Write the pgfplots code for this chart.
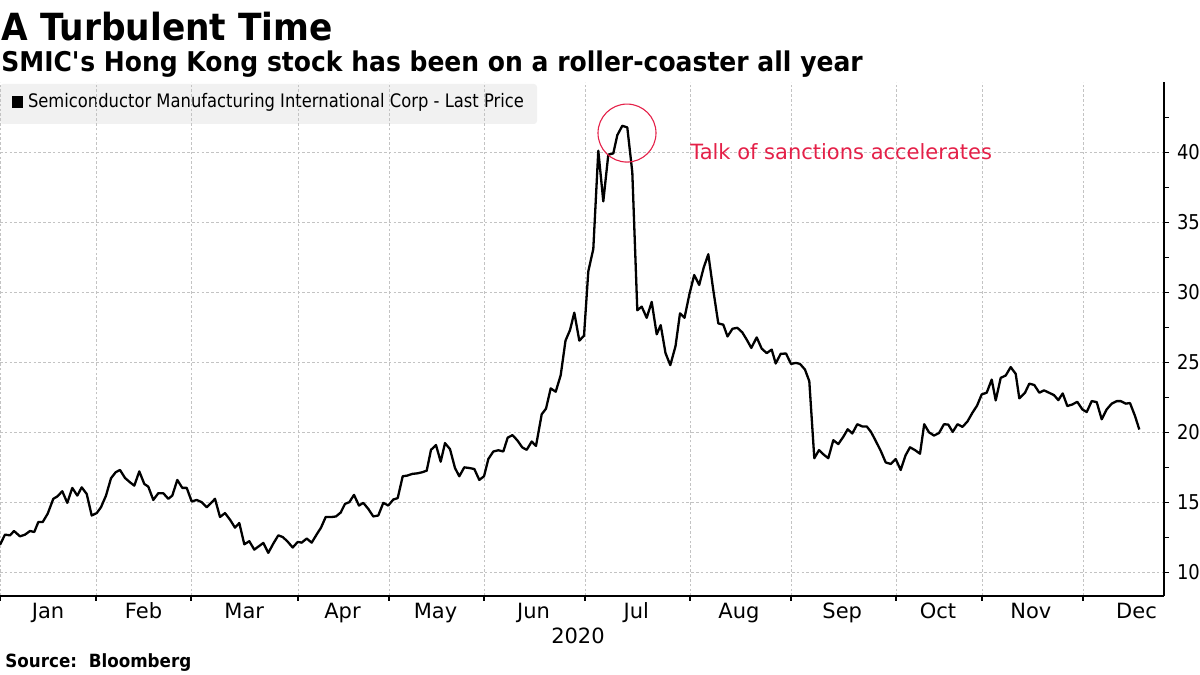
\documentclass[border=0pt]{standalone}
\usepackage{fontspec}
\setmainfont{DejaVu Sans}
\newfontfamily\titlefont{DejaVu Sans}[FakeStretch=0.92]
\newfontfamily\condfont{DejaVu Sans}[FakeStretch=0.88]
\usepackage{pgfplots}
\pgfplotsset{compat=1.18}
\definecolor{annot}{RGB}{228,32,72}
\definecolor{gridgray}{RGB}{195,195,195}
\definecolor{legfill}{RGB}{241,241,241}

\pgfplotstableread{
x v
0 11.97
5 12.69
10 12.64
14 12.95
20 12.57
25 12.69
30 12.95
34.3 12.88
38.3 13.59
42.7 13.59
47.7 14.19
53.3 15.25
57.3 15.42
62.3 15.79
67.3 14.96
72.3 16.03
77.3 15.48
81.7 16.07
86.7 15.60
91.7 14.06
96.7 14.23
101 14.65
106 15.48
111 16.72
115.7 17.15
120 17.31
125 16.74
130 16.43
134.3 16.19
139.3 17.21
144.3 16.31
148.3 16.12
153.3 15.17
158.3 15.65
163.3 15.65
168.3 15.25
172.3 15.48
177.3 16.60
182.3 16.03
186.7 16.03
191.7 15.06
196.7 15.17
201.7 15.01
206.7 14.65
211 14.95
215 15.25
220 13.95
225 14.23
230 13.76
235 13.19
239.3 13.52
244.3 12.00
249.3 12.22
254.3 11.62
259 11.87
263.3 12.10
268.3 11.39
273.3 12.05
278.3 12.64
282.7 12.52
287.3 12.22
292.7 11.77
297.7 12.17
301.7 12.12
306.7 12.41
311.7 12.12
316.7 12.71
321 13.19
325.7 13.95
331.7 13.95
336 13.99
340.7 14.27
345 14.89
349.3 15.01
354 15.53
359 14.77
363.3 14.96
368.3 14.53
373.3 13.99
378.3 14.06
383.3 14.96
388.3 14.77
393.3 15.20
397.7 15.30
402.7 16.86
407.3 16.91
412.3 17.03
417.3 17.07
422.3 17.15
426.7 17.26
431 18.75
436 19.09
440.7 17.90
445 19.23
450 18.80
455 17.45
459.3 16.86
464.3 17.50
469.3 17.45
474.3 17.38
479.3 16.60
484 16.86
488.3 18.09
493.3 18.63
498.3 18.72
503.3 18.63
507.7 19.62
512.5 19.80
517.3 19.43
522.3 18.92
526.7 18.75
531.7 19.34
536 19.03
541.7 21.29
546 21.69
550.7 23.14
555.7 22.90
560.7 24.08
565.5 26.55
570 27.30
574.3 28.55
579.3 26.55
584 26.90
588.3 31.50
593.3 33.10
598.3 40.12
603.3 36.50
608.3 39.84
613.3 39.93
617.3 41.23
622.3 41.90
627.3 41.78
632.3 38.58
637.3 28.72
641.7 28.98
646.7 28.18
651.7 29.32
656.7 27.00
660.7 27.66
665.5 25.66
670.3 24.80
675.5 26.15
680 28.50
684.5 28.18
689.5 29.90
694.2 31.24
699.2 30.53
703.7 31.77
708.3 32.72
713.3 30.15
718.3 27.78
723.3 27.69
727.5 26.85
732.5 27.40
737.3 27.47
742.3 27.14
746.8 26.61
751.3 26.03
756.7 26.78
761.7 25.98
766.7 25.66
771.7 25.91
775.7 24.92
780.7 25.61
786 25.63
791 24.89
796 24.96
800 24.89
805 24.48
809.3 23.65
814.3 18.15
819 18.73
824 18.39
828.3 18.15
833.3 19.44
838.3 19.16
843.3 19.68
847.7 20.22
852.3 19.92
857.3 20.58
862.3 20.42
866.7 20.42
871 20.03
875.7 19.39
880.7 18.68
885.7 17.85
890.7 17.74
895.7 18.09
900.7 17.31
905.5 18.35
910 18.93
915 18.73
920 18.47
924.2 20.58
929 20.00
934 19.77
939 19.95
944 20.58
948.3 20.55
952.7 20.03
957.5 20.58
962.5 20.39
967.5 20.78
972.5 21.41
977 21.90
981.7 22.71
986.7 22.83
991.7 23.77
995.7 22.28
1000.7 23.89
1005.7 24.06
1010.7 24.66
1015.7 24.18
1019.3 22.43
1025 22.83
1029.3 23.48
1034.3 23.38
1039.3 22.83
1044 23.00
1049 22.83
1054 22.66
1058.3 22.30
1062.7 22.78
1067.3 21.88
1072.3 21.99
1077.3 22.18
1082.3 21.64
1086.7 21.45
1091.7 22.23
1096.7 22.16
1101.7 20.93
1106.7 21.64
1111.7 22.05
1116.7 22.23
1120.7 22.23
1125.7 22.05
1130 22.09
1135 21.17
1139.3 20.20
}\smic

\begin{document}
\begin{tikzpicture}[x=1pt,y=1pt]
\path[use as bounding box] (0,298) rectangle (600,-39.5);
\node[anchor=base west, inner sep=0] at (0.5,277.5) {\titlefont\bfseries\fontsize{18.7}{20}\selectfont A Turbulent Time};
\node[anchor=base west, inner sep=0] at (0.5,262.2) {\titlefont\bfseries\fontsize{13.6}{15}\selectfont SMIC\textquotesingle s Hong Kong stock has been on a roller-coaster all year};
% legend
\fill[legfill, rounded corners=1.5pt] (0,256) rectangle (268.5,236);
\fill[black] (6.2,249.8) rectangle (11.6,244.2);
\node[anchor=west, inner sep=0] at (13.8,246.8) {\condfont\fontsize{9.3}{11}\selectfont Semiconductor Manufacturing International Corp - Last Price};
\begin{axis}[
  scale only axis, width=582pt, height=256.8pt,
  xmin=0, xmax=1164, ymin=8.307, ymax=45,
  axis x line*=bottom, axis y line*=right,
  axis line style={black, line width=0.6pt},
  xtick={48,143.5,244.2,342.5,435.5,533.5,636.4,738.9,842.2,937.9,1030.9,1136.5},
  xticklabels={Jan,Feb,Mar,Apr,May,Jun,Jul,Aug,Sep,Oct,Nov,Dec},
  minor xtick={0,96,191,298,389,484,585,690,791,896,982,1083},
  xminorgrids,
  ytick={10,15,20,25,30,35,40},
  minor ytick={12.5,17.5,22.5,27.5,32.5,37.5,42.5},
  ymajorgrids,
  grid style={gridgray, line width=0.5pt, dash pattern=on 1.3pt off 1.1pt},
  minor grid style={gridgray, line width=0.5pt, dash pattern=on 1.3pt off 1.1pt},
  tick align=outside,
  major tick length=2.5pt, minor tick length=2.5pt,
  x tick style={draw=none},
  minor x tick style={draw=black, line width=0.6pt},
  y tick style={black, line width=0.6pt},
  /pgf/number format/assume math mode=true,
  yticklabel style={font=\condfont\fontsize{10.2}{12}\selectfont, xshift=0.5pt},
  xticklabel style={font=\fontsize{10.5}{12}\selectfont, anchor=base, yshift=-8.8pt},
]
\addplot[black, line width=1.15pt, line join=round] table[x=x, y=v] {\smic};
\draw[annot, line width=0.55pt] (axis cs:627,41.38) circle[radius=14.5pt];
\node[anchor=west, inner sep=0, text=annot] at (axis cs:690,40.02) {\fontsize{10.5}{12}\selectfont Talk of sanctions accelerates};
\end{axis}
\node[anchor=base, inner sep=0] at (289,-23.8) {\fontsize{10.5}{12}\selectfont 2020};
\node[anchor=base west, inner sep=0] at (2.5,-35.5) {\titlefont\bfseries\fontsize{9.1}{11}\selectfont Source:\ \ Bloomberg};
\end{tikzpicture}
\end{document}
